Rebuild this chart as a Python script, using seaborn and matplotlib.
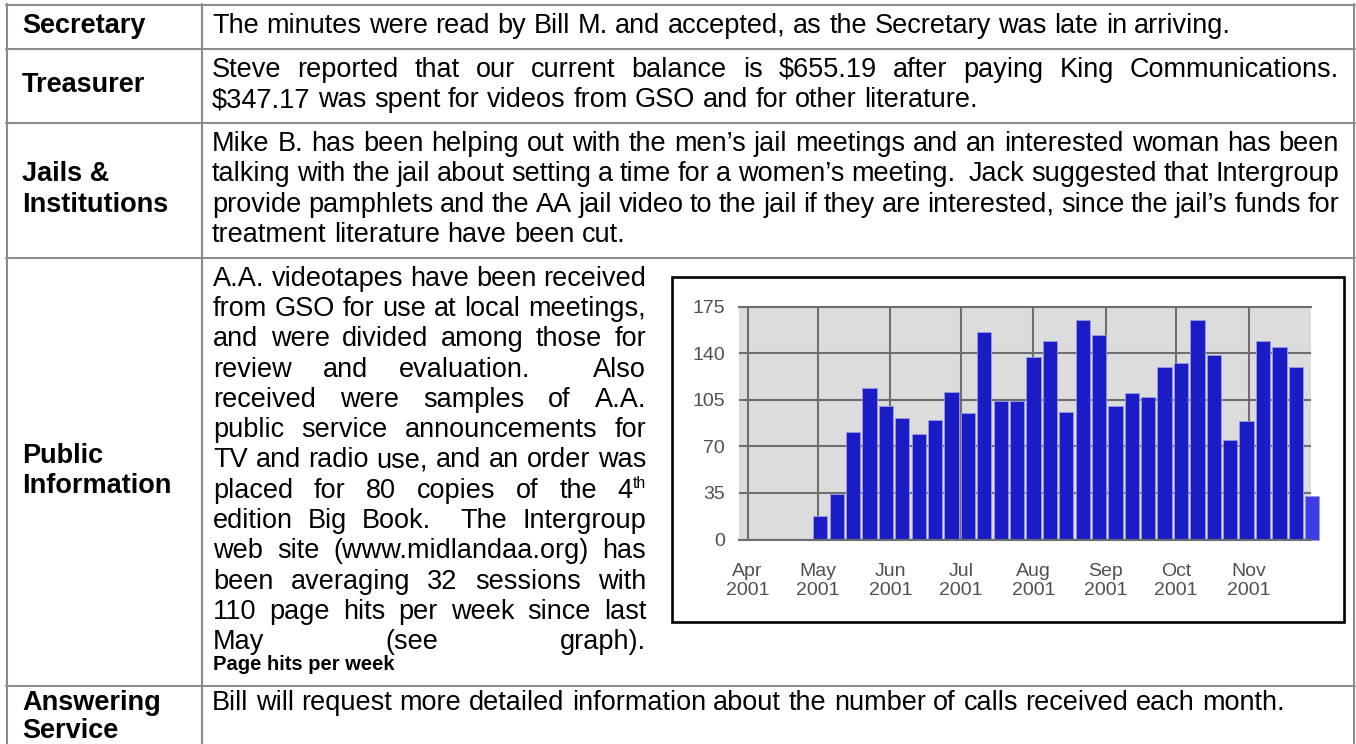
import pandas as pd
import matplotlib
matplotlib.use("Agg")
from matplotlib import pyplot as plt
from matplotlib.font_manager import FontProperties
from matplotlib.lines import Line2D
from matplotlib.patches import Rectangle
import seaborn as sns

W, H = 1356, 744

# weekly page hits of the web site (weeks start on sunday)
week_start = ["2001-04-29", "2001-05-06", "2001-05-13", "2001-05-20", "2001-05-27",
              "2001-06-03", "2001-06-10", "2001-06-17", "2001-06-24", "2001-07-01",
              "2001-07-08", "2001-07-15", "2001-07-22", "2001-07-29", "2001-08-05",
              "2001-08-12", "2001-08-19", "2001-08-26", "2001-09-02", "2001-09-09",
              "2001-09-16", "2001-09-23", "2001-09-30", "2001-10-07", "2001-10-14",
              "2001-10-21", "2001-10-28", "2001-11-04", "2001-11-11", "2001-11-18",
              "2001-11-25"]
page_hits = [18, 34, 81, 114, 100, 91, 79, 90, 111, 95, 156, 104, 104, 137, 149,
             96, 165, 154, 100, 110, 107, 130, 133, 165, 139, 75, 89, 149, 145, 130, 33]
week_status = ["full"] * 30 + ["partial"]

month_start = ["2001-04-01", "2001-05-01", "2001-06-01", "2001-07-01",
               "2001-08-01", "2001-09-01", "2001-10-01", "2001-11-01"]
month_labels = ["Apr\n2001", "May\n2001", "Jun\n2001", "Jul\n2001",
                "Aug\n2001", "Sep\n2001", "Oct\n2001", "Nov\n2001"]
hit_ticks = [0, 35, 70, 105, 140, 175]

# table text
row_labels = [["Secretary"], ["Treasurer"], ["Jails &", "Institutions"],
              ["Public", "Information"], ["Answering", "Service"]]
row_text = [
    [("The minutes were read by Bill M. and accepted, as the Secretary was late in arriving.", False)],
    [("Steve reported that our current balance is $655.19 after paying King Communications.", True),
     ("$347.17 was spent for videos from GSO and for other literature.", False)],
    [("Mike B. has been helping out with the men\u2019s jail meetings and an interested woman has been", True),
     ("talking with the jail about setting a time for a women\u2019s meeting.  Jack suggested that Intergroup", True),
     ("provide pamphlets and the AA jail video to the jail if they are interested, since the jail\u2019s funds for", True),
     ("treatment literature have been cut.", False)],
    [("A.A. videotapes have been received", True),
     ("from GSO for use at local meetings,", True),
     ("and were divided among those for", True),
     ("review and evaluation.  Also", True),
     ("received were samples of A.A.", True),
     ("public service announcements for", True),
     ("TV and radio use, and an order was", True),
     ("placed for 80 copies of the 4^th", True),
     ("edition Big Book.  The Intergroup", True),
     ("web site (www.midlandaa.org) has", True),
     ("been averaging 32 sessions with", True),
     ("110 page hits per week since last", True),
     ("May (see graph).", True)],
    [("Bill will request more detailed information about the number of calls received each month.", False)],
]
chart_caption = "Page hits per week"

sns.set_style("white")
plt.rcParams["font.family"] = ["Liberation Sans", "DejaVu Sans"]

fig = plt.figure(figsize=(W / 100, H / 100), dpi=100)
fig.patch.set_facecolor("white")
renderer = fig.canvas.get_renderer()

BODY = 19.5
LINE = 30.3
row_top = [5, 48.8, 122.9, 257.6, 686]
border = "#8c8c8c"


def fx(x):
    return x / W


def fy(y):
    return 1 - y / H


def text_w(s, size, weight="normal"):
    if not s:
        return 0.0
    fp = FontProperties(family="Liberation Sans", size=size, weight=weight)
    return renderer.get_text_width_height_descent(s, fp, ismath=False)[0]


def tok_w(tok, size):
    if "^" in tok:
        base, sup = tok.split("^")
        return text_w(base, size) + text_w(sup, size * 0.58)
    return text_w(tok, size)


def put(x, y, s, size=BODY, weight="normal", **kw):
    fig.text(fx(x), fy(y), s, fontsize=size, fontweight=weight, va="baseline",
             ha="left", color="black", parse_math=False, **kw)


def put_tok(x, y, tok, size=BODY):
    if "^" in tok:
        base, sup = tok.split("^")
        put(x, y, base, size)
        put(x + text_w(base, size), y - size * 1.389 * 0.36, sup, size * 0.58)
    elif tok:
        put(x, y, tok, size)


def put_line(line, x0, x1, y, justify):
    toks = line.split(" ")
    if not justify or len(toks) < 2:
        x = x0
        space = text_w("a b", BODY) - text_w("ab", BODY)
        for tok in toks:
            put_tok(x, y, tok)
            x += tok_w(tok, BODY) + space
        return
    widths = [tok_w(t, BODY) for t in toks]
    gap = (x1 - x0 - sum(widths)) / (len(toks) - 1)
    x = x0
    for tok, w in zip(toks, widths):
        put_tok(x, y, tok)
        x += w + gap


# table grid
for y in row_top:
    fig.add_artist(Line2D([fx(6), fx(1355)], [fy(y), fy(y)], color=border, lw=1.5))
for x in [7, 201.7, 1354]:
    fig.add_artist(Line2D([fx(x), fx(x)], [fy(4.3), fy(745)], color=border, lw=1.5))

# row labels and text
for i, (labels, lines) in enumerate(zip(row_labels, row_text)):
    top = row_top[i]
    if i < 4:
        row_h = row_top[i + 1] - top
        lab0 = top + (row_h - len(labels) * LINE) / 2 + 21.3
        body0 = top + 28
        lab_step = LINE
    else:
        lab0 = top + 24
        body0 = top + 24
        lab_step = 28.5
    for k, lab in enumerate(labels):
        put(22, lab0 + k * lab_step, lab, weight="bold")
    right = 646 if i == 3 else 1339
    left = 213 if i == 3 else 212
    for k, (line, just) in enumerate(lines):
        put_line(line, left, right, body0 + k * LINE, just)

put(213, 670.5, chart_caption, size=14.5, weight="bold")

# chart frame
fig.add_artist(Rectangle((fx(672), fy(621.7)), fx(1344) - fx(672), fy(276.7) - fy(621.7),
                         transform=fig.transFigure, fill=False, edgecolor="black",
                         lw=1.9, zorder=5))

# bar chart
origin = pd.Timestamp("2001-04-01")
starts = (pd.to_datetime(week_start) - origin).days.to_numpy()
df = pd.DataFrame({"day": starts + 3.05, "hits": page_hits, "status": week_status})
month_days = (pd.to_datetime(month_start) - origin).days.to_numpy()
week_days = (pd.date_range("2001-04-01", "2001-11-25", freq="7D") - origin).days.to_numpy()

x0, x1, ytop, ybot = 739, 1310.7, 306.7, 539.5
ax = fig.add_axes([fx(x0), fy(ybot), fx(x1) - fx(x0), fy(ytop) - fy(ybot)])
ax.set_facecolor("#dcdcdc")

sns.barplot(data=df, x="day", y="hits", hue="status", native_scale=True, dodge=False,
            palette={"full": "#1c1cc6", "partial": "#3d3de6"}, saturation=1,
            width=0.87, errorbar=None, legend=False, edgecolor="#9a9ae4",
            linewidth=0.6, ax=ax)
for p in ax.patches:
    p.set_clip_on(False)

ax.set_xlim(-3.63, 240.4)
ax.set_ylim(0, 175)
ax.set_axisbelow(True)
ax.set_xticks(month_days)
ax.set_xticklabels(month_labels, linespacing=1.15)
ax.set_xticks(week_days, minor=True)
ax.set_yticks(hit_ticks)
ax.set_yticklabels([str(v) for v in hit_ticks])
ax.grid(True, which="major", color="#6e6e6e", lw=1.5)
ax.tick_params(axis="x", which="major", length=12.2, width=1.5, color="#6e6e6e",
               pad=5, labelsize=14, labelcolor="#505050")
ax.tick_params(axis="x", which="minor", length=6.5, width=1.5, color="#6e6e6e")
ax.tick_params(axis="y", length=5, width=1.5, color="#6e6e6e", pad=5,
               labelsize=14, labelcolor="#505050")
ax.set_xlabel("")
ax.set_ylabel("")
for side in ["left", "right"]:
    ax.spines[side].set_visible(False)
for side in ["top", "bottom"]:
    ax.spines[side].set_color("#6e6e6e")
    ax.spines[side].set_linewidth(1.5)

fig.savefig("out.png", dpi=100)
